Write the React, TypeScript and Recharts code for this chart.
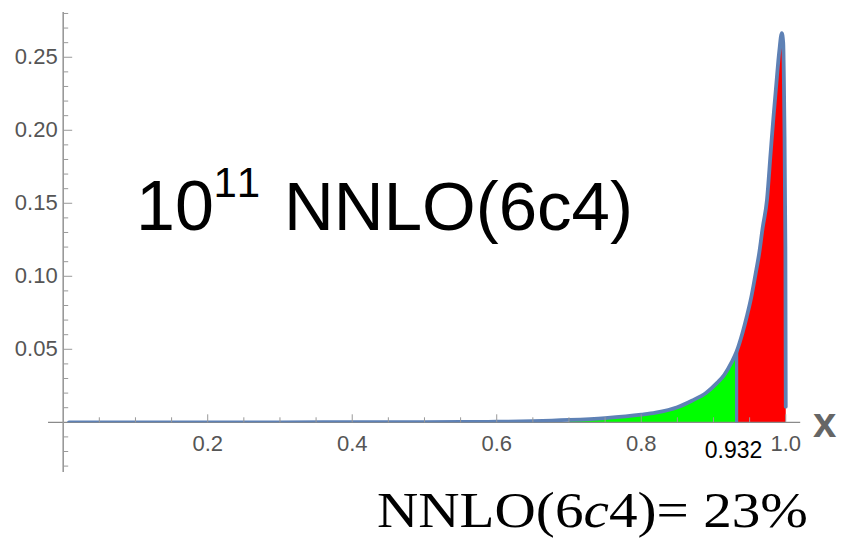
import React from "react";
import { ComposedChart, Line, Area, XAxis, YAxis, ReferenceLine, Label } from "recharts";

// ---- data ----
const xValues = [
  0.008, 0.1, 0.2, 0.3, 0.4, 0.5, 0.55, 0.6, 0.65, 0.7, 0.75, 0.8, 0.82, 0.85, 0.87,
  0.89, 0.905, 0.915, 0.925, 0.932, 0.94, 0.946, 0.952, 0.958, 0.963, 0.968, 0.974,
  0.979, 0.983, 0.987, 0.991, 0.9945, 0.9965, 0.998, 0.9995, 1.0,
];
const yValues = [
  0, 0, 0, 0, 0.00005, 0.0001, 0.0002, 0.0004, 0.0008, 0.0016, 0.0029, 0.0052, 0.0066,
  0.0103, 0.0148, 0.0203, 0.027, 0.0325, 0.041, 0.0485, 0.061, 0.0723, 0.085, 0.101,
  0.115, 0.133, 0.1523, 0.184, 0.209, 0.232, 0.254, 0.2665, 0.26, 0.21, 0.12, 0.0107,
];
const greenStart = 0.7;
const cutX = 0.932;
const cutLabel = "0.932";

const xTicks = [
  0.05, 0.1, 0.15, 0.2, 0.25, 0.3, 0.35, 0.4, 0.45, 0.5, 0.55, 0.6, 0.65, 0.7, 0.75,
  0.8, 0.85, 0.9, 0.95, 1.0,
];
const xMajorTicks = [0.2, 0.4, 0.6, 0.8, 1.0];
const xTickLabels = ["0.2", "0.4", "0.6", "0.8", "1.0"];

const yTicks = [
  -0.03, -0.02, -0.01, 0.01, 0.02, 0.03, 0.04, 0.05, 0.06, 0.07, 0.08, 0.09, 0.1, 0.11,
  0.12, 0.13, 0.14, 0.15, 0.16, 0.17, 0.18, 0.19, 0.2, 0.21, 0.22, 0.23, 0.24, 0.25,
  0.26, 0.27, 0.28,
];
const yMajorTicks = [0.05, 0.1, 0.15, 0.2, 0.25];
const yTickLabels = ["0.05", "0.10", "0.15", "0.20", "0.25"];

const xDomain = [0, 1.02];
const yDomain = [0, 0.281];
const xAxisExtent = [-0.021, 1.02];
const yAxisExtent = [-0.034, 0.281];

const titleBase = "10";
const titleExp = "11";
const titleRest = "NNLO(6c4)";
const resultPre = "NNLO(6";
const resultItalic = "c";
const resultPost = "4)= 23%";
const xAxisName = "x";

// ---- table for the library ----
const rows = xValues.map((x, i) => ({
  x,
  y: yValues[i],
  green: x >= greenStart && x <= cutX ? yValues[i] : null,
  red: x >= cutX ? yValues[i] : null,
}));
const cutY = yValues[xValues.indexOf(cutX)];

const CURVE = "#5E81B5";
const AXIS = "#999999";
const LABEL = "#555555";
const SANS = "'Liberation Sans', Arial, sans-serif";

const findMajor = (arr: number[], v: number) => arr.findIndex((m) => Math.abs(m - v) < 1e-6);

const XTick = (props: any) => {
  const { x, y, payload } = props;
  const i = findMajor(xMajorTicks, payload.value);
  const major = i >= 0;
  return (
    <g>
      <line x1={x} x2={x} y1={y} y2={y - (major ? 8 : 5)} stroke={AXIS} strokeWidth={1} />
      {major && (
        <text x={x} y={y + 29} textAnchor="middle" fontSize={22} fill={LABEL} fontFamily={SANS}>
          {xTickLabels[i]}
        </text>
      )}
    </g>
  );
};

const YTick = (props: any) => {
  const { x, y, payload } = props;
  const i = findMajor(yMajorTicks, payload.value);
  const major = i >= 0;
  return (
    <g>
      <line x1={x} x2={x + (major ? 9 : 5)} y1={y} y2={y} stroke={AXIS} strokeWidth={1} />
      {major && (
        <text x={x - 5.5} y={y + 6.4} textAnchor="end" fontSize={22} fill={LABEL} fontFamily={SANS}>
          {yTickLabels[i]}
        </text>
      )}
    </g>
  );
};

const CutLabel = (props: any) => {
  const vb = props.viewBox || {};
  return (
    <text
      x={vb.x - 3}
      y={vb.y + vb.height + 36}
      textAnchor="middle"
      fontSize={23}
      fill="#000"
      fontFamily={SANS}
    >
      {cutLabel}
    </text>
  );
};

export default function App() {
  return (
    <div style={{ position: "absolute", left: 0, top: 0, width: 845, height: 542, background: "#fff" }}>
      <ComposedChart
        width={845}
        height={542}
        data={rows}
        margin={{ top: 12, right: 44.8, bottom: 89.7, left: 0 }}
      >
        <XAxis
          type="number"
          dataKey="x"
          domain={xDomain}
          allowDataOverflow
          ticks={xTicks}
          interval={0}
          axisLine={false}
          tickLine={false}
          tickSize={0}
          tickMargin={0}
          height={30}
          tick={<XTick />}
        />
        <YAxis
          type="number"
          domain={yDomain}
          allowDataOverflow
          ticks={yTicks}
          interval={0}
          axisLine={false}
          tickLine={false}
          tickSize={0}
          tickMargin={0}
          width={63.2}
          tick={<YTick />}
        />
        <ReferenceLine
          segment={[{ x: xAxisExtent[0], y: 0 }, { x: xAxisExtent[1], y: 0 }]}
          stroke="#8a8a8a"
          strokeWidth={1.3}
          ifOverflow="visible"
        />
        <ReferenceLine
          segment={[{ x: 0, y: yAxisExtent[0] }, { x: 0, y: yAxisExtent[1] }]}
          stroke={AXIS}
          strokeWidth={1.6}
          ifOverflow="visible"
        />
        <Area
          type="monotone"
          dataKey="green"
          stroke="none"
          fill="#00FF00"
          fillOpacity={1}
          isAnimationActive={false}
          connectNulls={false}
          dot={false}
          activeDot={false}
        />
        <Area
          type="monotone"
          dataKey="red"
          stroke="none"
          fill="#FF0000"
          fillOpacity={1}
          isAnimationActive={false}
          connectNulls={false}
          dot={false}
          activeDot={false}
        />
        <ReferenceLine
          segment={[{ x: cutX, y: 0 }, { x: cutX, y: cutY }]}
          stroke={CURVE}
          strokeWidth={3.2}
          ifOverflow="visible"
        >
          <Label content={<CutLabel />} />
        </ReferenceLine>
        <Line
          type="monotone"
          dataKey="y"
          stroke={CURVE}
          strokeWidth={3.8}
          strokeLinejoin="round"
          strokeLinecap="round"
          dot={false}
          activeDot={false}
          isAnimationActive={false}
        />
      </ComposedChart>
      <svg
        width={845}
        height={542}
        style={{ position: "absolute", left: 0, top: 0, pointerEvents: "none" }}
      >
        <text x={136} y={230} fontSize={70} fill="#000" fontFamily={SANS}>
          {titleBase}
        </text>
        <text x={213.5} y={196.7} fontSize={42} letterSpacing={3} fill="#000" fontFamily={SANS}>
          {titleExp}
        </text>
        <text x={284} y={230} fontSize={69} fill="#000" fontFamily={SANS}>
          {titleRest}
        </text>
        <text x={813} y={436.7} fontSize={42} fontWeight={700} fill="#666" fontFamily={SANS}>
          {xAxisName}
        </text>
        <text
          x={377}
          y={526.7}
          fontSize={50}
          fill="#000"
          fontFamily="'Liberation Serif', 'Times New Roman', serif"
          textLength={431}
          lengthAdjust="spacingAndGlyphs"
        >
          {resultPre}
          <tspan fontStyle="italic">{resultItalic}</tspan>
          {resultPost}
        </text>
      </svg>
    </div>
  );
}
